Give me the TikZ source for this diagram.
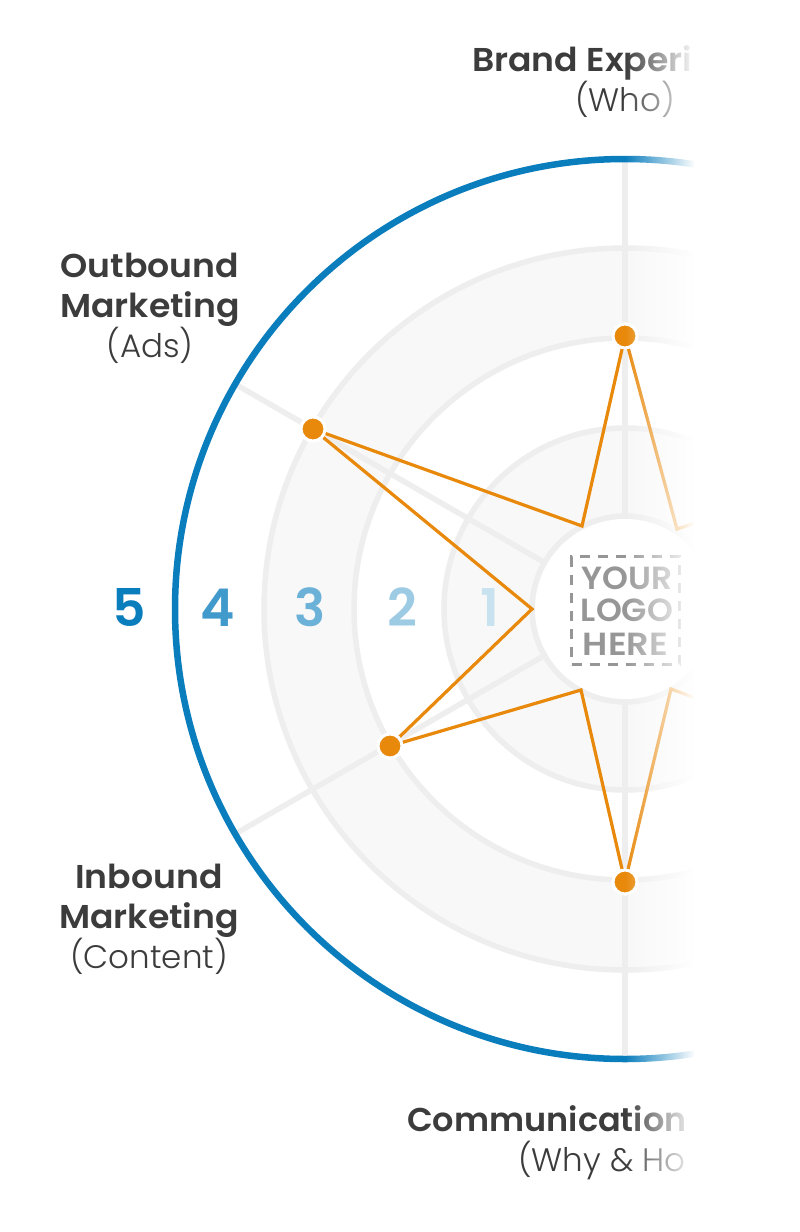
\documentclass[tikz,border=0pt]{standalone}
\usepackage{fontspec}
\usetikzlibrary{fadings}
\newfontfamily\labbold[FakeStretch=1.05]{Poppins SemiBold}
\newfontfamily\labboldc[FakeStretch=1.015]{Poppins SemiBold}
\newfontfamily\lablogo[FakeStretch=1.03]{Poppins SemiBold}
\newfontfamily\lablogoh[FakeStretch=1.1]{Poppins SemiBold}
\newfontfamily\labnum{Poppins SemiBold}
\newfontfamily\lablight{Poppins Light}
\definecolor{ink}{HTML}{3C3C3C}
\definecolor{ringc}{HTML}{EEEEEE}
\definecolor{bandc}{HTML}{F8F8F8}
\definecolor{bluec}{HTML}{0A7DBD}
\definecolor{orangec}{HTML}{E8890C}
\definecolor{logoc}{HTML}{969696}
\tikzfading[name=faderight,left color=transparent!100,right color=transparent!0]
\tikzset{
  x=1pt,y=-1pt,
  ringline/.style={draw=ringc,line width=5.5pt},
  spoke/.style={draw=ringc,line width=5.5pt},
  starline/.style={draw=orangec,line width=3.2pt,line join=miter},
  stardot/.style={circle,fill=orangec,draw=white,line width=3pt,minimum size=24pt,inner sep=0pt},
  headlab/.style={font=\labbold\fontsize{33}{40}\selectfont,text=ink,inner sep=0pt},
  sublab/.style={font=\lablight\fontsize{32.5}{40}\selectfont,text=ink,inner sep=0pt},
  numlab/.style={font=\labnum\fontsize{52}{52}\selectfont,inner sep=0pt,anchor=base},
  logotext/.style={font=\lablogo\fontsize{32}{33}\selectfont,text=logoc,inner sep=0pt,anchor=base}
}
\begin{document}
\begin{tikzpicture}
\useasboundingbox (0,0) rectangle (800,1232);
\fill[white] (0,0) rectangle (800,1232);
\coordinate (C) at (625,609);
% bands
\fill[bandc] (C) circle[radius=361];
\fill[white] (C) circle[radius=271];
\fill[bandc] (C) circle[radius=181];
% spokes
\coordinate (S1) at (235,384);
\coordinate (S2) at (235,834);
\coordinate (S3) at (1015,384);
\coordinate (S4) at (1015,834);
\coordinate (ST) at (625,159);
\coordinate (SB) at (625,1059);
\draw[spoke] (ST) -- (SB);
\draw[spoke] (S1) -- (S4);
\draw[spoke] (S2) -- (S3);
% rings
\draw[ringline] (C) circle[radius=361];
\draw[ringline] (C) circle[radius=271];
\draw[ringline] (C) circle[radius=181];
\fill[white] (C) circle[radius=90];
\draw[ringline] (C) circle[radius=93];
% outer
\draw[draw=bluec,line width=6.5pt] (C) circle[radius=450];
% numbers
\node[numlab,text=bluec] (n5) at (129,626) {5};
\node[numlab,text=bluec!78!white] (n4) at (218,626) {4};
\node[numlab,text=bluec!60!white] (n3) at (310,626) {3};
\node[numlab,text=bluec!40!white] (n2) at (402,626) {2};
\node[numlab,text=bluec!22!white] (n1) at (490,626) {1};
% logo
\node[draw=logoc,dashed,dash pattern=on 10pt off 8pt,line width=3pt,minimum width=108pt,minimum height=108pt,inner sep=0pt] (logo) at (625.5,610.5) {};
\node[logotext] (l1) at (627,589) {YOUR};
\node[logotext] (l2) at (627,621) {LOGO};
\node[logotext,font=\lablogoh\fontsize{32}{33}\selectfont] (l3) at (625.5,655) {HERE};
% star
\node[stardot] (dT) at (625,336) {};
\node[stardot] (dO) at (313,429) {};
\node[stardot] (dI) at (390,746) {};
\node[stardot] (dB) at (625,882) {};
\coordinate (i1) at (582,526);
\coordinate (i2) at (532,609);
\coordinate (i3) at (581,690);
\coordinate (i4) at (671,689);
\coordinate (i5) at (677,529);
\coordinate (e1) at (720,515);
\coordinate (e2) at (720,707);
\draw[starline] (e1) -- (i5) -- (dT.center) -- (i1) -- (dO.center) -- (i2) -- (dI.center) -- (i3) -- (dB.center) -- (i4) -- (e2);
\node[stardot] at (dT.center) {};
\node[stardot] at (dO.center) {};
\node[stardot] at (dI.center) {};
\node[stardot] at (dB.center) {};
% labels
\node[headlab,anchor=base west] (brand) at (472,71) {Brand Experi};
\node[sublab,anchor=base] (who) at (625,111) {(Who)};
\node[headlab,anchor=base] (ob1) at (150,277) {Outbound};
\node[headlab,anchor=base] (ob2) at (150,317) {Marketing};
\node[sublab,anchor=base] (ob3) at (150,357) {(Ads)};
\node[headlab,anchor=base] (ib1) at (149,888) {Inbound};
\node[headlab,anchor=base] (ib2) at (149,928) {Marketing};
\node[sublab,anchor=base] (ib3) at (149,968) {(Content)};
\node[headlab,font=\labboldc\fontsize{33}{40}\selectfont,anchor=base west] (comm) at (407,1131) {Communication};
\node[sublab,anchor=base west] (why) at (518,1171) {(Why \& Ho};
% fade
\fill[white,path fading=faderight] (625,0) rectangle (695,1232);
\fill[white] (694,0) rectangle (800,1232);
\end{tikzpicture}
\end{document}
